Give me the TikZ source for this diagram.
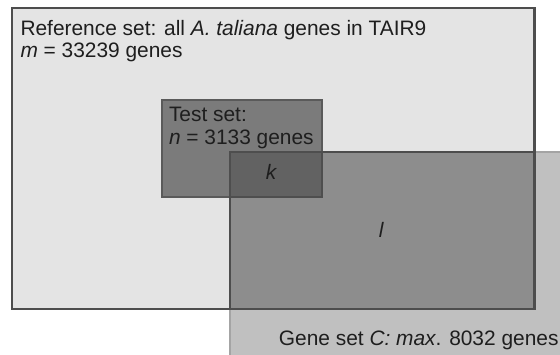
\documentclass[tikz,border=0pt]{standalone}
\usepackage{fontspec}
\setmainfont{Liberation Sans}
\definecolor{refFill}{HTML}{E4E4E4}
\definecolor{refLine}{HTML}{4D4D4D}
\definecolor{geneFill}{HTML}{C0C0C0}
\definecolor{geneLine}{HTML}{A4A4A4}
\definecolor{overFill}{HTML}{8D8D8D}
\definecolor{testFill}{HTML}{7B7B7B}
\definecolor{testLine}{HTML}{5A5A5A}
\definecolor{kFill}{HTML}{626262}
\definecolor{kLine}{HTML}{4E4E4E}
\definecolor{txt}{HTML}{1E1E1E}
\begin{document}
\begin{tikzpicture}[x=1pt,y=-1pt,
  lbl/.style={inner sep=0pt,outer sep=0pt,text=txt,
    font=\fontsize{20.9}{22}\selectfont}]
\useasboundingbox (0,0) rectangle (560,354);
\clip (0,0) rectangle (560,354);
% reference set
\draw[fill=refFill,draw=refLine,line width=2.6pt] (12,8) rectangle (534.5,309);
% gene set C, running off the page
\draw[fill=geneFill,draw=geneLine,line width=1.6pt] (230,152) rectangle (575,370);
% gene set C within the reference set
\draw[fill=overFill,draw=refLine,line width=2.2pt] (230,152) rectangle (534.5,309);
% test set
\draw[fill=testFill,draw=testLine,line width=2pt] (162,99.5) rectangle (321.5,197);
% test set within gene set C
\draw[fill=kFill,draw=kLine,line width=2pt] (230,152) rectangle (321.5,197);
% labels
\node[lbl,anchor=base west] (ref1) at (20.5,35) {Reference set: all \textit{A. taliana} genes in TAIR9};
\node[lbl,anchor=base west] (ref2) at (20.5,57) {\textit{m} = 33239 genes};
\node[lbl,anchor=base west] (test1) at (169,121) {Test set:};
\node[lbl,anchor=base west] (test2) at (169,144) {\textit{n} = 3133 genes};
\node[lbl,anchor=base] (k) at (271.5,179) {\textit{k}};
\node[lbl,anchor=base] (l) at (381.5,237) {\textit{l}};
\node[lbl,anchor=base east] (gene) at (558.5,345) {Gene set \textit{C: max}. 8032 genes};
\end{tikzpicture}
\end{document}
